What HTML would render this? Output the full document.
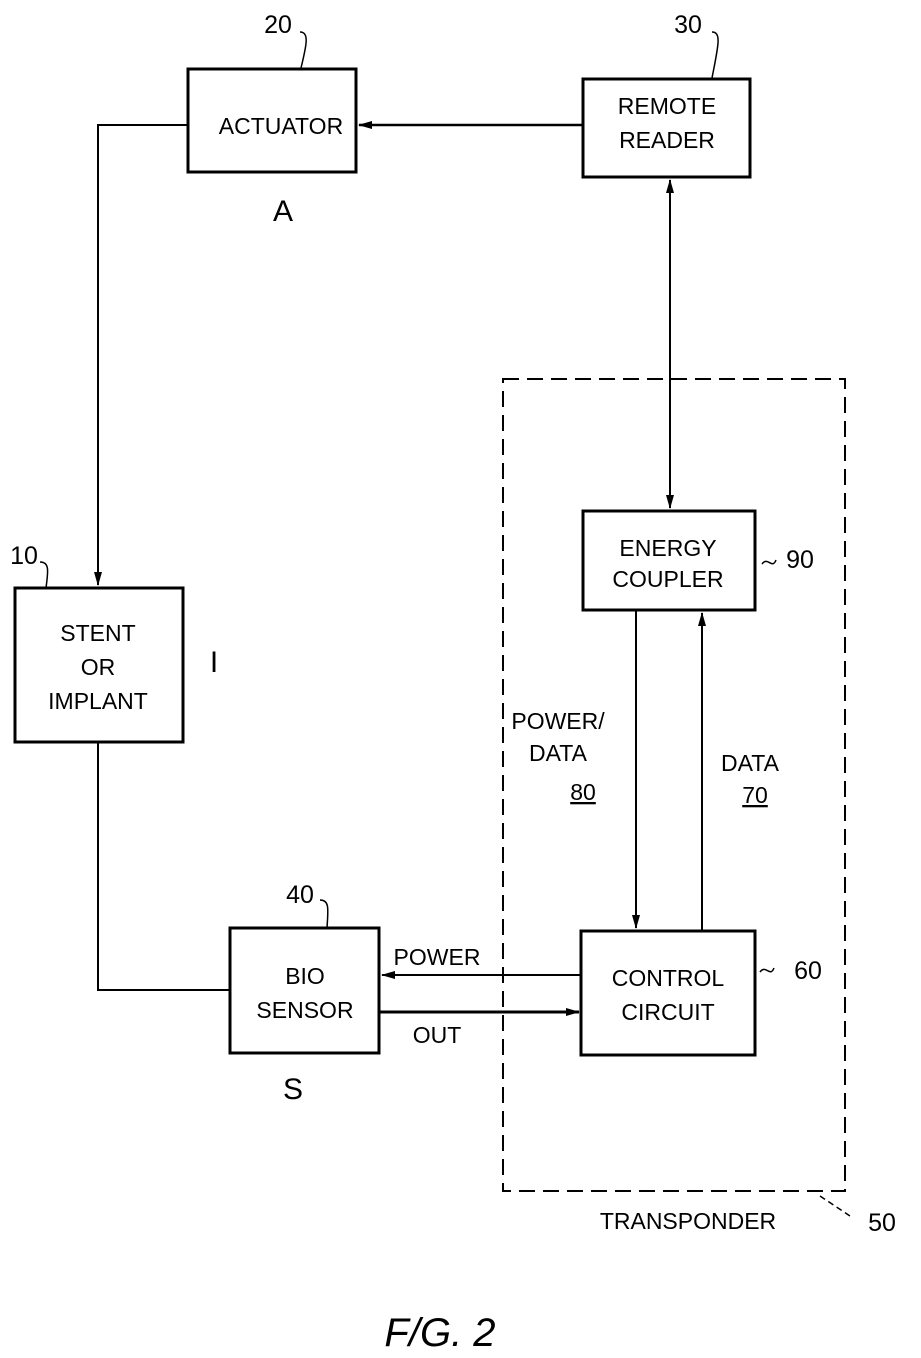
<!DOCTYPE html>
<html><head><style>
html,body{margin:0;padding:0;background:#fff;}
svg{display:block}
text{font-family:"Liberation Sans",sans-serif;fill:#000;}
</style></head><body>
<svg width="921" height="1358" viewBox="0 0 921 1358" xmlns="http://www.w3.org/2000/svg">
<defs>
<marker id="a" markerWidth="14" markerHeight="8" refX="13" refY="4" orient="auto" markerUnits="userSpaceOnUse">
<path d="M0,0 L14,4 L0,8 z" fill="#000"/></marker>
<marker id="s" markerWidth="14" markerHeight="8" refX="1" refY="4" orient="auto" markerUnits="userSpaceOnUse">
<path d="M14,0 L0,4 L14,8 z" fill="#000"/></marker>
</defs>
<g fill="none" stroke="#000" stroke-width="3">
<rect x="188" y="69" width="168" height="103"/>
<rect x="583" y="79" width="167" height="98"/>
<rect x="15" y="588" width="168" height="154"/>
<rect x="230" y="928" width="149" height="125"/>
<rect x="581" y="931" width="174" height="124"/>
<rect x="583" y="511" width="172" height="99"/>
</g>
<g fill="none" stroke="#000" stroke-width="2">
<polyline points="187,125 98,125 98,585" marker-end="url(#a)"/>
<line x1="582" y1="125" x2="359" y2="125" stroke-width="2.5" marker-end="url(#a)"/>
<polyline points="98,743 98,990 229,990"/>
<line x1="670" y1="180" x2="670" y2="508" marker-start="url(#s)" marker-end="url(#a)"/>
<line x1="636" y1="611" x2="636" y2="928" marker-end="url(#a)"/>
<line x1="702" y1="930" x2="702" y2="613" marker-end="url(#a)"/>
<line x1="580" y1="975" x2="382" y2="975" marker-end="url(#a)"/>
<line x1="380" y1="1012" x2="579" y2="1012" stroke-width="3" marker-end="url(#a)"/>
<rect x="503" y="379" width="342" height="812" stroke-dasharray="16,8"/>
<path d="M300,32 c10,0 6,15 1,36" stroke-width="1.5"/>
<path d="M712,32 c10,0 6,15 0,46" stroke-width="1.5"/>
<path d="M40,562 c10,0 8,10 6,26" stroke-width="1.5"/>
<path d="M320,900 c10,0 8,10 7,28" stroke-width="1.5"/>
<path d="M762,564 c6,-8 10,6 14,-4" stroke-width="1.5"/>
<path d="M760,972 c6,-8 10,6 14,-4" stroke-width="1.5"/>
<path d="M820,1196 l30,20" stroke-width="1.5" stroke-dasharray="6,4"/>
</g>
<g font-size="23" text-anchor="middle">
<text x="281" y="134">ACTUATOR</text>
<text x="667" y="114">REMOTE</text>
<text x="667" y="148">READER</text>
<text x="283" y="221" font-size="30">A</text>
<text x="668" y="556">ENERGY</text>
<text x="668" y="587">COUPLER</text>
<text x="98" y="641">STENT</text>
<text x="98" y="675">OR</text>
<text x="98" y="709">IMPLANT</text>
<text x="214" y="672" font-size="30">I</text>
<text x="305" y="984">BIO</text>
<text x="305" y="1018">SENSOR</text>
<text x="293" y="1099" font-size="30">S</text>
<text x="668" y="986">CONTROL</text>
<text x="668" y="1020">CIRCUIT</text>
<text x="558" y="729">POWER/</text>
<text x="558" y="761">DATA</text>
<text x="583" y="800" text-decoration="underline">80</text>
<text x="750" y="771">DATA</text>
<text x="755" y="803" text-decoration="underline">70</text>
<text x="437" y="965">POWER</text>
<text x="437" y="1043">OUT</text>
<text x="688" y="1229">TRANSPONDER</text>
<g font-size="25">
<text x="278" y="33">20</text>
<text x="688" y="33">30</text>
<text x="24" y="564">10</text>
<text x="300" y="903">40</text>
<text x="800" y="568">90</text>
<text x="808" y="979">60</text>
<text x="882" y="1231">50</text>
</g>
<text x="440" y="1346" font-size="40" font-style="italic">F/G.  2</text>
</g>
</svg>
</body></html>
